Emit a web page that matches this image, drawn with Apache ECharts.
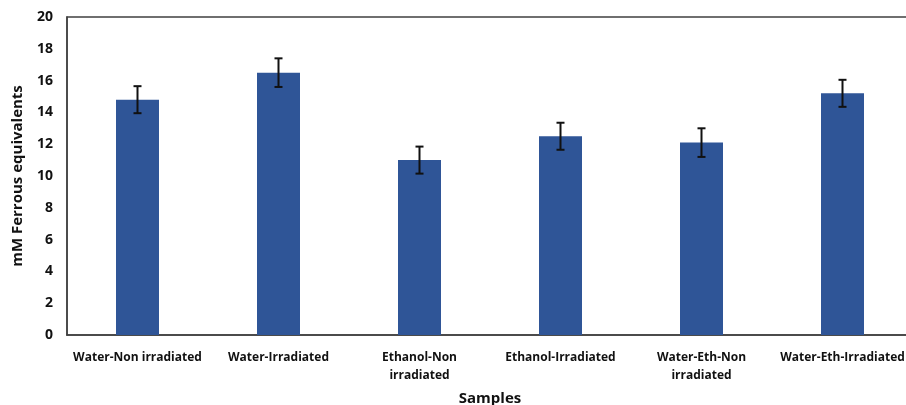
<!DOCTYPE html>
<html><head><meta charset="utf-8">
<script src="https://cdn.jsdelivr.net/npm/echarts@6/dist/echarts.min.js"></script>
<style>html,body{margin:0;padding:0;background:#fff}#c{width:906px;height:405px}</style>
</head><body><div id="c"></div>
<script>
var categories = ["Water-Non irradiated","Water-Irradiated","Ethanol-Non\nirradiated","Ethanol-Irradiated","Water-Eth-Non\nirradiated","Water-Eth-Irradiated"];
var values = [14.8, 16.5, 11.0, 12.5, 12.1, 15.2];
var errors = [0.85, 0.9, 0.85, 0.85, 0.9, 0.85];
var yTicks = [0,2,4,6,8,10,12,14,16,18,20];

var errData = values.map(function(v,i){return [i, v-errors[i], v+errors[i]];});
var chart = echarts.init(document.getElementById('c'));
var font = '"Open Sans", "Liberation Sans", sans-serif';
chart.setOption({
  animation:false,
  grid:{left:67, width:846, top:17, height:318, outerBoundsMode:'none', containLabel:false,
    show:true, borderColor:'#404040', borderWidth:1.5},
  xAxis:{type:'category', data:categories,
    axisLine:{lineStyle:{color:'#404040', width:1.5}}, axisTick:{show:false},
    axisLabel:{color:'#111', fontFamily:font, fontWeight:'bold', fontSize:12, margin:14, interval:0, lineHeight:18},
    name:'Samples', nameLocation:'middle', nameGap:56,
    nameTextStyle:{color:'#111', fontFamily:font, fontWeight:'bold', fontSize:15}},
  yAxis:{type:'value', min:0, max:20, interval:2,
    axisLine:{show:true, lineStyle:{color:'#404040', width:1.5}}, axisTick:{show:false}, splitLine:{show:false},
    axisLabel:{color:'#111', fontFamily:font, fontWeight:'bold', fontSize:14, margin:14},
    name:'mM Ferrous equivalents', nameLocation:'middle', nameGap:42,
    nameTextStyle:{color:'#111', fontFamily:font, fontWeight:'bold', fontSize:15}},
  series:[
    {type:'bar', data:values, barWidth:43, itemStyle:{color:'#2F5597'}},
    {type:'custom', data:errData, z:10,
      renderItem:function(params, api){
        var x = api.value(0);
        var lo = api.coord([x, api.value(1)]);
        var hi = api.coord([x, api.value(2)]);
        var hw = 4;
        var st = {stroke:'#111', lineWidth:2};
        return {type:'group', children:[
          {type:'line', shape:{x1:lo[0], y1:lo[1], x2:hi[0], y2:hi[1]}, style:st},
          {type:'line', shape:{x1:lo[0]-hw, y1:lo[1], x2:lo[0]+hw, y2:lo[1]}, style:st},
          {type:'line', shape:{x1:hi[0]-hw, y1:hi[1], x2:hi[0]+hw, y2:hi[1]}, style:st}
        ]};
      }}
  ]
});
</script></body></html>
